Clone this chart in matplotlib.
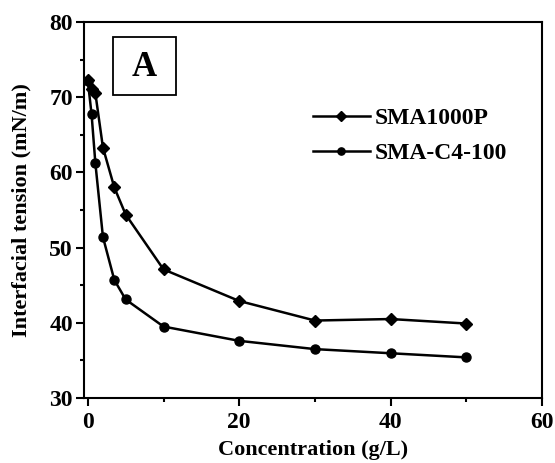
import matplotlib.pyplot as plt
from matplotlib.patches import Rectangle
from matplotlib.ticker import MultipleLocator

plt.rcParams['font.family'] = ['Liberation Serif', 'DejaVu Serif']
plt.rcParams['font.weight'] = 'bold'

# concentration (g/L)
conc = [0, 0.5, 1, 2, 3.5, 5, 10, 20, 30, 40, 50]
# interfacial tension (mN/m)
sma1000p = [72.3, 71.1, 70.5, 63.3, 58.0, 54.4, 47.1, 42.9, 40.3, 40.5, 39.9]
sma_c4_100 = [72.2, 67.7, 61.2, 51.4, 45.7, 43.1, 39.5, 37.6, 36.5, 35.95, 35.4]

fig = plt.figure(figsize=(5.55, 4.63), dpi=100)
ax = fig.add_axes([0.1514, 0.1404, 0.8252, 0.8121])

ax.plot(conc, sma1000p, color='black', lw=1.8, marker='D', ms=6, label='SMA1000P')
ax.plot(conc, sma_c4_100, color='black', lw=1.8, marker='o', ms=6.5, label='SMA-C4-100')

ax.set_xlim(-0.5, 60)
ax.set_ylim(30, 80)
ax.xaxis.set_major_locator(MultipleLocator(20))
ax.xaxis.set_minor_locator(MultipleLocator(10))
ax.yaxis.set_major_locator(MultipleLocator(10))
ax.yaxis.set_minor_locator(MultipleLocator(5))
ax.tick_params(which='both', direction='out', width=1.5, labelsize=17)
ax.tick_params(which='major', length=6)
ax.tick_params(which='minor', length=3)
ax.tick_params(axis='y', pad=2)
ax.tick_params(axis='x', pad=4)
for s in ax.spines.values():
    s.set_linewidth(1.5)

ax.set_xlabel('Concentration (g/L)', fontsize=16, fontweight='bold', labelpad=5)
ax.set_ylabel('Interfacial tension (mN/m)', fontsize=16, fontweight='bold', labelpad=13)

# panel label box
ax.add_patch(Rectangle((0.0633, 0.806), 0.1376, 0.154, transform=ax.transAxes,
                       fill=False, ec='black', lw=1.3))
ax.text(0.132, 0.878, 'A', transform=ax.transAxes, fontsize=25, fontweight='bold',
        ha='center', va='center')

ax.legend(loc='upper left', bbox_to_anchor=(0.5, 0.772), frameon=False, fontsize=17,
          borderpad=0, borderaxespad=0, handlelength=2.4, handletextpad=0.2,
          labelspacing=0.58, markerscale=0.8)

fig.savefig('out.png', dpi=100)
